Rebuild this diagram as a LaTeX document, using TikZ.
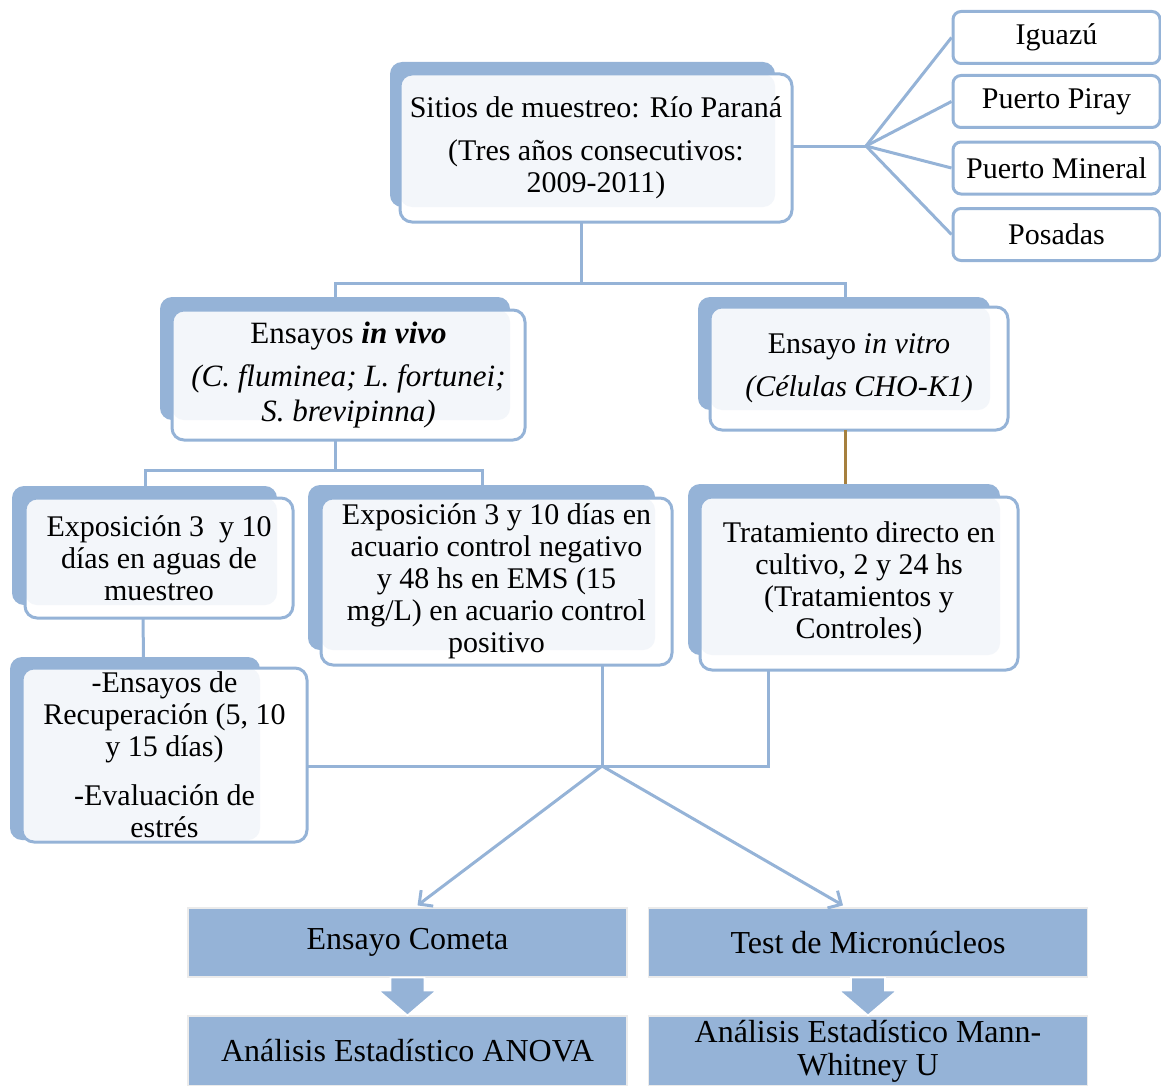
\documentclass[tikz,border=0pt]{standalone}
\usepackage{fontspec}
\setmainfont{Liberation Serif}
\usepackage{tikz}
\usetikzlibrary{arrows.meta, calc, backgrounds}

\definecolor{boxblue}{RGB}{149,179,215}
\definecolor{boxlight}{RGB}{243,246,250}
\definecolor{linkbrown}{RGB}{166,128,62}

\begin{document}
\begin{tikzpicture}[x=0.5pt, y=-0.5pt,
    frontbox/.style={draw=boxblue, line width=1.5pt, rounded corners=6pt, outer sep=0pt, inner sep=0pt, align=center, font=\fontsize{15}{16}\selectfont},
    sitebox/.style={draw=boxblue, fill=white, line width=1.5pt, rounded corners=4pt, minimum width=103.5pt, minimum height=26pt, font=\fontsize{15}{16}\selectfont},
    resultbox/.style={fill=boxblue, draw=black!8, line width=0.6pt, minimum width=219.5pt, minimum height=34.5pt, inner sep=0pt, align=center, font=\fontsize{16}{16.5}\selectfont},
    link/.style={draw=boxblue, line width=1.5pt}]
    \useasboundingbox (0,0) rectangle (1161,1086);

    % main boxes
    \node[frontbox, minimum width=196pt, minimum height=74pt] (sitios) at (596,148) {Sitios de muestreo: Río Paraná\\[5.5pt] (Tres años consecutivos:\\ 2009-2011)};
    \node[frontbox, minimum width=176.5pt, minimum height=65pt, font=\fontsize{15.5}{16}\selectfont] (vivo) at (348.5,375) {Ensayos \textbf{\textit{in vivo}}\\[5.5pt] \textit{(C. fluminea; L. fortunei;}\\[1.5pt] \textit{S. brevipinna)}};
    \node[frontbox, minimum width=149pt, minimum height=61.5pt] (vitro) at (859,368.5) {Ensayo \textit{in vitro}\\[5.5pt] \textit{(Células CHO-K1)}};
    \node[frontbox, minimum width=134pt, minimum height=60pt] (expo) at (159,558) {Exposición 3 \ y 10\\ días en aguas de\\ muestreo};
    \node[frontbox, minimum width=175.5pt, minimum height=83.5pt] (acuario) at (496.5,581.5) {Exposición 3 y 10 días en\\ acuario control negativo\\ y 48 hs en EMS (15\\ mg/L) en acuario control\\ positivo};
    \node[frontbox, minimum width=159pt, minimum height=86.5pt] (trat) at (859,583.5) {Tratamiento directo en\\ cultivo, 2 y 24 hs\\ (Tratamientos y\\ Controles)};
    \node[frontbox, minimum width=142.5pt, minimum height=87pt] (recup) at (164.5,755) {-Ensayos de\\ Recuperación (5, 10\\ y 15 días)\\[8.5pt] -Evaluación de\\ estrés};

    % shaded backs
    \foreach \n/\l/\t/\r/\b in {sitios/10/12/17/15, vivo/12/13/15/20, vitro/12/10/18/20, expo/13/12/16/13, acuario/13/13/17/15, trat/12/13/18/15, recup/12/11/47/2} {
        \begin{pgfonlayer}{background}
            \fill[boxblue, rounded corners=6pt] ($(\n.north west)+(-\l,-\t)$) rectangle ($(\n.south east)+(-\r,-\b)$);
            \fill[white, rounded corners=6pt] (\n.north west) rectangle (\n.south east);
            \fill[boxlight, rounded corners=6pt] (\n.north west) rectangle ($(\n.south east)+(-\r,-\b)$);
        \end{pgfonlayer}
    }

    % sampling sites
    \node[sitebox] (iguazu) at (1056.5,37.5) {Iguazú};
    \node[sitebox] (piray) at (1056.5,101.5) {Puerto Piray};
    \node[sitebox] (mineral) at (1056.5,168) {Puerto Mineral};
    \node[sitebox] (posadas) at (1056.5,234.5) {Posadas};

    % results
    \node[resultbox] (cometa) at (407.5,942.5) {Ensayo Cometa};
    \node[resultbox] (micro) at (868,942.5) {Test de Micronúcleos};
    \node[resultbox, minimum height=35pt] (anova) at (407.5,1051) {Análisis Estadístico ANOVA};
    \node[resultbox, minimum height=35pt] (mann) at (868,1051) {Análisis Estadístico Mann-\\Whitney U};

    \coordinate (fan) at (866,146);
    \coordinate (split1) at (581,283);
    \coordinate (split2) at (335,470);
    \coordinate (merge) at (602,766);

    % connectors
    \draw[link] (sitios.east |- fan) -- (fan);
    \foreach \s in {iguazu, piray, mineral, posadas}
        \draw[link] (fan) -- (\s.west);
    \draw[link] (sitios.south -| split1) -- (split1);
    \draw[link] ($(vivo.north)+(-13,-13)$) |- (split1) -| ($(vitro.north)+(-14,-10)$);
    \draw[draw=linkbrown, line width=1.5pt] ($(vitro.south)+(-14,0)$) -- ($(trat.north)+(-14,-13)$);
    \draw[link] (vivo.south -| split2) -- (split2);
    \draw[link] ($(expo.north)+(-14,-12)$) |- (split2) -| ($(acuario.north)+(-14,-13)$);
    \draw[link] ($(expo.south)+(-16,0)$) -- ($(recup.north)+(-21,-11)$);
    \draw[link] (recup.east |- merge) -- (merge);
    \draw[link] (acuario.south -| merge) -- (merge);
    \draw[link] ($(trat.south)+(-91,0)$) |- (merge);
    \draw[link, -{Straight Barb[length=5pt, width=10pt]}] (merge) -- ($(cometa.north)+(10,-2)$);
    \draw[link, -{Straight Barb[length=5pt, width=10pt]}] (merge) -- ($(micro.north)+(-25,-2)$);

    % block arrows
    \foreach \a/\b in {cometa/anova, micro/mann}
        \fill[boxblue, draw=white, line width=0.8pt] ($(\a.south)+(-17,0)$) -- ($(\a.south)+(-17,13)$) -- ($(\a.south)+(-29,13)$) -- (\b.north) -- ($(\a.south)+(29,13)$) -- ($(\a.south)+(17,13)$) -- ($(\a.south)+(17,0)$) -- cycle;
\end{tikzpicture}
\end{document}
